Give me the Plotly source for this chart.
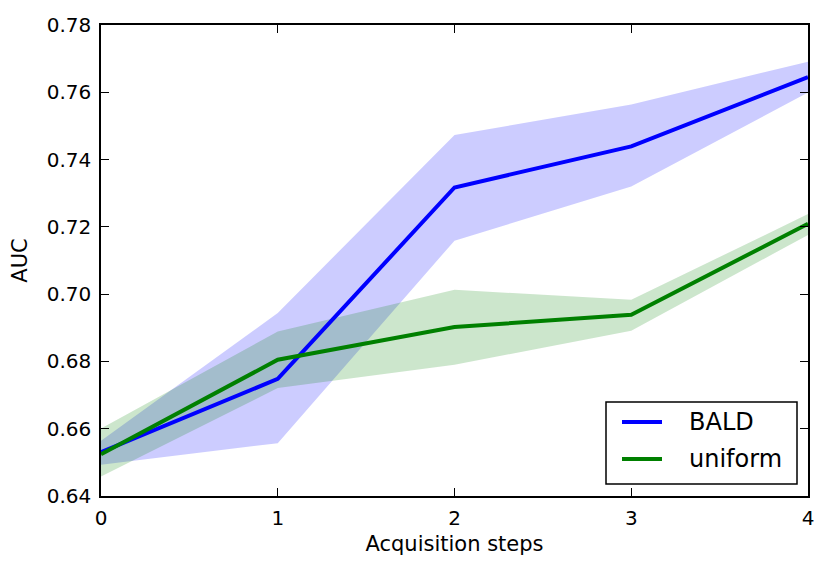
import plotly.graph_objects as go

steps = [0, 1, 2, 3, 4]
bald_mean = [0.6530, 0.6748, 0.7317, 0.7439, 0.7645]
bald_upper = [0.6564, 0.6944, 0.7473, 0.7564, 0.7691]
bald_lower = [0.6493, 0.6557, 0.7159, 0.7320, 0.7599]
unif_mean = [0.6524, 0.6805, 0.6902, 0.6939, 0.7209]
unif_upper = [0.6601, 0.6889, 0.7013, 0.6983, 0.7238]
unif_lower = [0.6458, 0.6721, 0.6790, 0.6891, 0.7176]
y_ticks = [0.64, 0.66, 0.68, 0.70, 0.72, 0.74, 0.76, 0.78]
x_ticks = [0, 1, 2, 3, 4]
series_names = ["BALD", "uniform"]
series_colors = ["#0000FF", "#008000"]

FONT = "DejaVu Sans"
W, H = 831, 572
OFF = 8  # page body margin offset
# target plot area in screen pixels: x 101..808, y 25..496
SX0, SX1, SY0, SY1 = 101, 808, 25, 496
ML, MT = SX0 - OFF, SY0 - OFF
PW, PH = SX1 - SX0, SY1 - SY0
MR, MB = W - ML - PW, H - MT - PH

def px_x(p):
    return (p - SX0) / PW

def px_y(p):
    return (SY1 - p) / PH

fig = go.Figure()

def band(lower, upper, color):
    fig.add_trace(go.Scatter(x=steps, y=lower, mode="lines", line=dict(width=0),
                             showlegend=False, hoverinfo="skip"))
    fig.add_trace(go.Scatter(x=steps, y=upper, mode="lines", line=dict(width=0),
                             fill="tonexty", fillcolor=color, showlegend=False, hoverinfo="skip"))

band(bald_lower, bald_upper, "rgba(0,0,255,0.2)")
band(unif_lower, unif_upper, "rgba(0,128,0,0.2)")

fig.add_trace(go.Scatter(x=steps, y=bald_mean, mode="lines", name=series_names[0],
                         line=dict(color=series_colors[0], width=4), showlegend=False))
fig.add_trace(go.Scatter(x=steps, y=unif_mean, mode="lines", name=series_names[1],
                         line=dict(color=series_colors[1], width=4), showlegend=False))

axis_common = dict(showline=True, linecolor="black", linewidth=1.5, mirror="allticks",
                   ticks="inside", ticklen=8, tickwidth=1, tickcolor="black",
                   showgrid=False, zeroline=False, automargin=False,
                   tickfont=dict(family=FONT, size=20, color="black"))

fig.update_xaxes(range=[0, 4], tickvals=x_ticks, ticktext=[str(v) for v in x_ticks],
                 title=dict(text="Acquisition steps", font=dict(family=FONT, size=21, color="black"),
                            standoff=8),
                 ticklabelstandoff=3, **axis_common)
fig.update_yaxes(range=[0.64, 0.78], tickvals=y_ticks, ticktext=[f"{v:.2f}" for v in y_ticks],
                 title=dict(text="AUC", font=dict(family=FONT, size=21, color="black"),
                            standoff=13),
                 ticklabelstandoff=4, **axis_common)

# legend box drawn like matplotlib's
shapes = [dict(type="rect", xref="paper", yref="paper",
               x0=px_x(606), x1=px_x(797), y0=px_y(484), y1=px_y(402),
               line=dict(color="black", width=1.5), fillcolor="white", layer="above")]
annotations = []
rows = [422, 459]
for name, color, ry in zip(series_names, series_colors, rows):
    shapes.append(dict(type="line", xref="paper", yref="paper",
                       x0=px_x(622), x1=px_x(662), y0=px_y(ry), y1=px_y(ry),
                       line=dict(color=color, width=4), layer="above"))
    annotations.append(dict(xref="paper", yref="paper", x=px_x(687), y=px_y(ry),
                            xanchor="left", yanchor="middle", text=name, showarrow=False,
                            font=dict(family=FONT, size=24, color="black")))

fig.update_layout(
    width=W, height=H,
    margin=dict(l=ML, r=MR, t=MT, b=MB),
    plot_bgcolor="white", paper_bgcolor="white",
    font=dict(family=FONT, color="black"),
    showlegend=False,
    shapes=shapes, annotations=annotations,
)

fig.write_html("out.html")
